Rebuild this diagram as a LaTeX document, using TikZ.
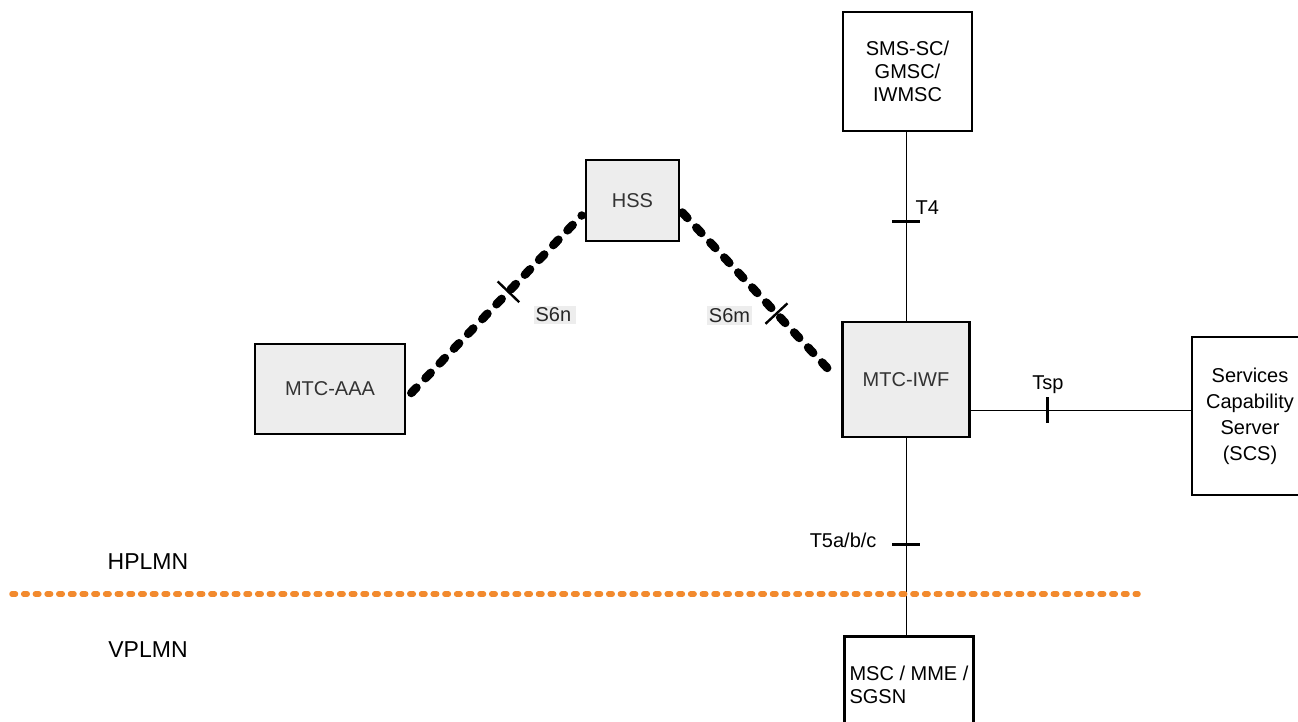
\documentclass[tikz,border=0pt]{standalone}
\usepackage{fontspec}
\setmainfont{Liberation Sans}
\usepackage{tikz}
\usetikzlibrary{calc}

\begin{document}
\begin{tikzpicture}[x=1pt,y=-1pt,
    every node/.style={font=\fontsize{20}{23}\selectfont},
    box/.style={draw,line width=2.6pt,inner sep=0pt,align=center},
    grey box/.style={box,fill=black!7,text=black!80},
    iface/.style={line width=1pt},
    s6/.style={line width=8.5pt,line cap=round,dash pattern=on 7.5pt off 13pt},
    tickmark/.style={line width=3pt},
    taglabel/.style={fill=black!7,inner sep=2pt,text=black!85}]
      \useasboundingbox (0,0) rectangle (1298,722);
      \clip (0,0) rectangle (1298,722);
      % network elements
      \node[box,minimum width=129,minimum height=119] (sms) at (907.5,71.5) {SMS-SC/\\GMSC/\\IWMSC};
      \node[grey box,minimum width=93,minimum height=81] (hss) at (632.5,200.5) {HSS};
      \node[grey box,minimum width=150,minimum height=90] (aaa) at (330,389) {MTC-AAA};
      \node[grey box,minimum width=127,minimum height=115] (iwf) at (906,379.5) {MTC-IWF};
      \node[box,minimum width=116,minimum height=158,font=\fontsize{20}{26}\selectfont] (scs) at (1250,416) {Services\\Capability\\Server\\(SCS)};
      \node[box,anchor=north,align=left,minimum width=126,inner xsep=5pt,inner ysep=30pt] (msc) at (909,635) {MSC / MME /\\SGSN};
      % interfaces
      \draw[iface] (iwf.north|-sms.south) -- (iwf.north) coordinate[pos=0.473] (t4);
      \draw[tickmark] ($(t4)+(-14,0)$) -- ($(t4)+(14,0)$);
      \node[anchor=west] (t4lbl) at (912,208) {T4};
      \draw[iface] (iwf.east|-0,410) -- (scs.west|-0,410) coordinate[pos=0.35] (tsp);
      \draw[tickmark] ($(tsp)+(0,-13)$) -- ($(tsp)+(0,13)$);
      \node (tsplbl) at (1048,385) {Tsp};
      \draw[iface] (iwf.south) -- (iwf.south|-msc.north) coordinate[pos=0.54] (t5);
      \draw[tickmark] ($(t5)+(-14,0)$) -- ($(t5)+(14,0)$);
      \node[anchor=east] (t5lbl) at (880,540) {T5a/b/c};
      \coordinate (aaaend) at ($(aaa.east)+(5,4)$);
      \coordinate (hssw) at ($(hss.west)+(-3,15)$);
      \draw[s6] (aaaend) -- (hssw) coordinate[pos=0.57] (s6n);
      \draw[tickmark,line width=2.4pt] ($(s6n)!15pt!90:(hssw)$) -- ($(s6n)!15pt!-90:(hssw)$);
      \node[taglabel] (s6nlbl) at (555,315) {S6n\,};
      \coordinate (hsse) at ($(hss.east)+(2,12)$);
      \coordinate (iwfend) at ($(iwf.west)+(-7,-4)$);
      \draw[s6] (hsse) -- (iwfend) coordinate[pos=0.62] (s6m);
      \draw[tickmark,line width=2.4pt] ($(s6m)!15pt!90:(iwfend)$) -- ($(s6m)!15pt!-90:(iwfend)$);
      \node[taglabel] (s6mlbl) at (729.5,315.5) {S6m};
      % network border
      \draw[color={rgb,255:red,242;green,138;blue,46},line width=5.5pt,line cap=round,dash pattern=on 3.5pt off 8.2pt] (12,594) coordinate (hl) -- (1138,594) coordinate (hr);
      \node[font=\fontsize{23}{26}\selectfont] (hplmn) at (148,562) {HPLMN};
      \node[font=\fontsize{23}{26}\selectfont] (vplmn) at (148,650) {VPLMN};
   \end{tikzpicture}
\end{document}
